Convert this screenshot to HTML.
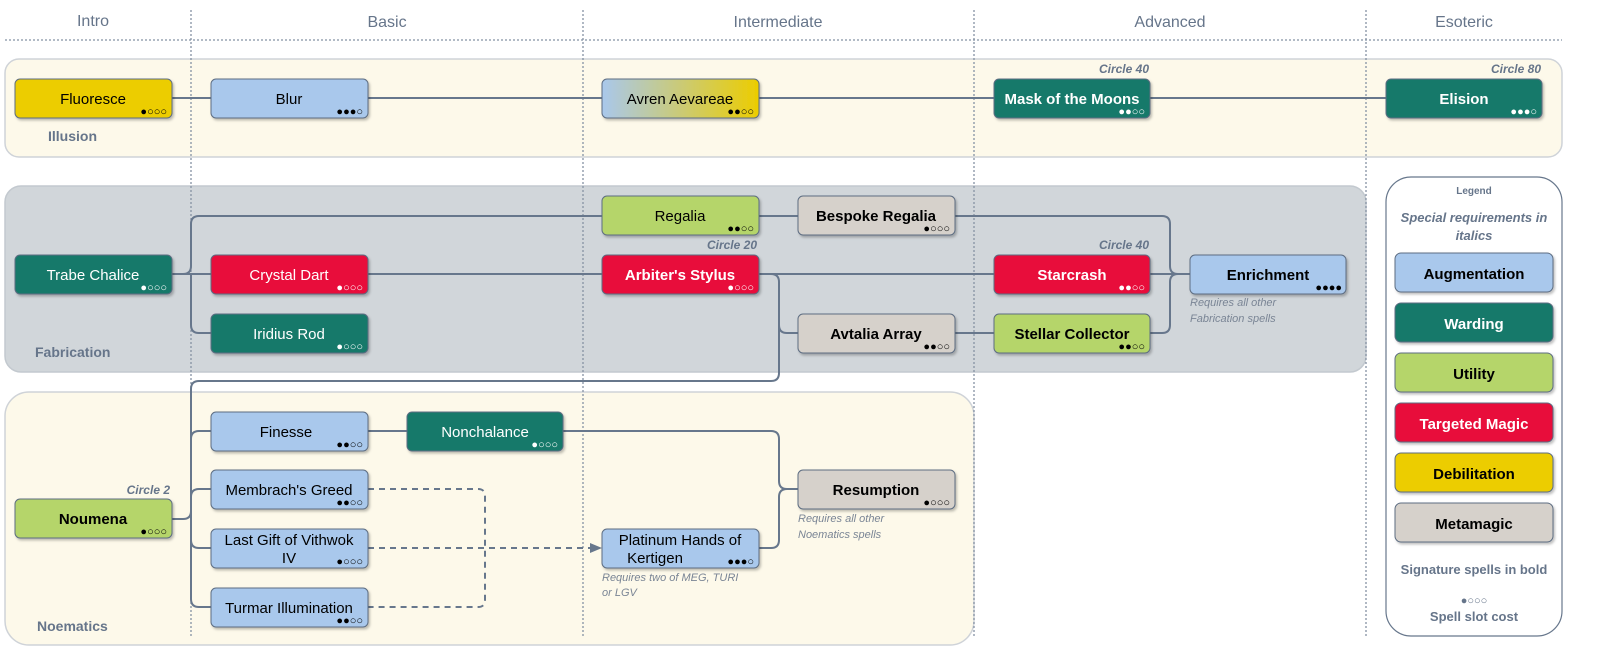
<!DOCTYPE html>
<html><head><meta charset="utf-8"><style>
html,body{margin:0;padding:0;background:#fff;width:100%;height:100%;overflow:hidden}
svg{display:block;font-family:"Liberation Sans",sans-serif;position:fixed;left:0;top:0;width:100vw;height:100vh}
.n{font-size:15px;text-anchor:middle}
.b{font-weight:bold}
.w{fill:#fff}
.d{font-size:11px;text-anchor:end;letter-spacing:0px}
.c{font-size:12px;font-style:italic;fill:#66758a;text-anchor:end;font-weight:bold}
.r{font-size:11px;font-style:italic;fill:#7a8595}
.g{font-size:14px;font-weight:bold;fill:#66758a}
.h{font-size:16px;fill:#66758a;text-anchor:middle}
.ln{fill:none;stroke:#67778c;stroke-width:2}
</style></head><body>
<svg viewBox="0 0 1602 661" preserveAspectRatio="none">
<defs>
<filter id="s" x="-10%" y="-10%" width="130%" height="140%"><feDropShadow dx="1.5" dy="2" stdDeviation="1.2" flood-color="#000" flood-opacity="0.25"/></filter>
<linearGradient id="av" x1="0" x2="1" y1="0" y2="0"><stop offset="0" stop-color="#a9c8ec"/><stop offset="1" stop-color="#eccd00"/></linearGradient>
</defs>
<rect x="5" y="59" width="1557" height="98" rx="14" fill="#fdf9ea" stroke="#cfd3d8" stroke-width="1.5"/>
<rect x="5" y="186" width="1361" height="186" rx="16" fill="#d1d6da" stroke="#c3c9cf" stroke-width="1.5"/>
<rect x="5" y="392" width="969" height="253" rx="24" fill="#fdf9ea" stroke="#cfd3d8" stroke-width="1.5"/>
<rect x="1386" y="177" width="176" height="459" rx="25" fill="#fff" stroke="#67778c" stroke-width="1.2"/>
<g stroke="#8592a3" stroke-width="1.3" stroke-dasharray="2,2">
<line x1="5" y1="40" x2="1562" y2="40"/>
<line x1="191" y1="10" x2="191" y2="636"/>
<line x1="583" y1="10" x2="583" y2="636"/>
<line x1="974" y1="10" x2="974" y2="636"/>
<line x1="1366" y1="10" x2="1366" y2="636"/>
</g>
<text class="h" x="93" y="26">Intro</text>
<text class="h" x="387" y="27">Basic</text>
<text class="h" x="778" y="27">Intermediate</text>
<text class="h" x="1170" y="27">Advanced</text>
<text class="h" x="1464" y="27">Esoteric</text>
<text class="g" x="48" y="141">Illusion</text>
<text class="g" x="35" y="357">Fabrication</text>
<text class="g" x="37" y="631">Noematics</text>
<line class="ln" x1="172" y1="98" x2="1386" y2="98"/>
<path class="ln" d="M172 274 H183 Q191 274 191 266 V224 Q191 216 199 216 H602"/>
<path class="ln" d="M172 274 H602 M191 274 V325 Q191 333 199 333 H211"/>
<line class="ln" x1="759" y1="216" x2="798" y2="216"/>
<path class="ln" d="M955 216 H1162 Q1170 216 1170 224 V266 Q1170 274 1178 274 H1190"/>
<line class="ln" x1="759" y1="274" x2="1190" y2="274"/>
<path class="ln" d="M1150 333 H1162 Q1170 333 1170 325 V282 Q1170 274 1178 274"/>
<path class="ln" d="M759 274 H771 Q779 274 779 282 V325 Q779 333 787 333 H798"/>
<line class="ln" x1="955" y1="333" x2="994" y2="333"/>
<path class="ln" d="M779 325 V373 Q779 381 771 381 H199 Q191 381 191 389 V599 Q191 607 199 607 H211"/>
<path class="ln" d="M172 519 H183 Q191 519 191 511 V439 Q191 431 199 431 H211"/>
<path class="ln" d="M191 497 Q191 489 199 489 H211 M191 540 Q191 548 199 548 H211"/>
<line class="ln" x1="368" y1="431" x2="407" y2="431"/>
<path class="ln" d="M563 431 H771 Q779 431 779 439 V481 Q779 489 787 489 H798"/>
<path class="ln" d="M759 548 H771 Q779 548 779 540 V497 Q779 489 787 489"/>
<g fill="none" stroke="#67778c" stroke-width="2" stroke-dasharray="6,5">
<path d="M368 489 H478 Q485 489 485 496 V600 Q485 607 478 607 H368"/>
<path d="M368 548 H592"/>
</g>
<path d="M590 543 L602 548 L590 553 Z" fill="#67778c"/>
<g filter="url(#s)" stroke="#5d6d82" stroke-width="1">
<rect x="15" y="79" width="157" height="39" rx="5" fill="#eccd00"/>
<rect x="211" y="79" width="157" height="39" rx="5" fill="#a9c8ec"/>
<rect x="602" y="79" width="157" height="39" rx="5" fill="url(#av)"/>
<rect x="994" y="79" width="156" height="39" rx="5" fill="#14796b"/>
<rect x="1386" y="79" width="156" height="39" rx="5" fill="#14796b"/>
<rect x="602" y="196" width="157" height="39" rx="5" fill="#b5d56a"/>
<rect x="798" y="196" width="157" height="39" rx="5" fill="#d6d1cb"/>
<rect x="15" y="255" width="157" height="39" rx="5" fill="#14796b"/>
<rect x="211" y="255" width="157" height="39" rx="5" fill="#e8073a"/>
<rect x="602" y="255" width="157" height="39" rx="5" fill="#e8073a"/>
<rect x="994" y="255" width="156" height="39" rx="5" fill="#e8073a"/>
<rect x="1190" y="255" width="156" height="39" rx="5" fill="#a9c8ec"/>
<rect x="211" y="314" width="157" height="39" rx="5" fill="#14796b"/>
<rect x="798" y="314" width="157" height="39" rx="5" fill="#d6d1cb"/>
<rect x="994" y="314" width="156" height="39" rx="5" fill="#b5d56a"/>
<rect x="211" y="412" width="157" height="39" rx="5" fill="#a9c8ec"/>
<rect x="407" y="412" width="156" height="39" rx="5" fill="#14796b"/>
<rect x="211" y="470" width="157" height="39" rx="5" fill="#a9c8ec"/>
<rect x="798" y="470" width="157" height="39" rx="5" fill="#d6d1cb"/>
<rect x="15" y="499" width="157" height="39" rx="5" fill="#b5d56a"/>
<rect x="211" y="529" width="157" height="39" rx="5" fill="#a9c8ec"/>
<rect x="602" y="529" width="157" height="39" rx="5" fill="#a9c8ec"/>
<rect x="211" y="588" width="157" height="39" rx="5" fill="#a9c8ec"/>
<rect x="1395" y="253" width="158" height="39" rx="6" fill="#a9c8ec"/>
<rect x="1395" y="303" width="158" height="39" rx="6" fill="#14796b"/>
<rect x="1395" y="353" width="158" height="39" rx="6" fill="#b5d56a"/>
<rect x="1395" y="403" width="158" height="39" rx="6" fill="#e8073a"/>
<rect x="1395" y="453" width="158" height="39" rx="6" fill="#eccd00"/>
<rect x="1395" y="503" width="158" height="39" rx="6" fill="#d6d1cb"/>
</g>
<text class="n" x="93" y="104">Fluoresce</text><text class="d" x="167" y="115">●○○○</text>
<text class="n" x="289" y="104">Blur</text><text class="d" x="363" y="115">●●●○</text>
<text class="n" x="680" y="104">Avren Aevareae</text><text class="d" x="754" y="115">●●○○</text>
<text class="n b w" x="1072" y="104">Mask of the Moons</text><text class="d w" x="1145" y="115">●●○○</text>
<text class="n b w" x="1464" y="104">Elision</text><text class="d w" x="1537" y="115">●●●○</text>
<text class="n" x="680" y="221">Regalia</text><text class="d" x="754" y="232">●●○○</text>
<text class="n b" x="876" y="221">Bespoke Regalia</text><text class="d" x="950" y="232">●○○○</text>
<text class="n w" x="93" y="280">Trabe Chalice</text><text class="d w" x="167" y="291">●○○○</text>
<text class="n w" x="289" y="280">Crystal Dart</text><text class="d w" x="363" y="291">●○○○</text>
<text class="n b w" x="680" y="280">Arbiter's Stylus</text><text class="d w" x="754" y="291">●○○○</text>
<text class="n b w" x="1072" y="280">Starcrash</text><text class="d w" x="1145" y="291">●●○○</text>
<text class="n b" x="1268" y="280">Enrichment</text><text class="d" x="1342" y="291">●●●●</text>
<text class="n w" x="289" y="339">Iridius Rod</text><text class="d w" x="363" y="350">●○○○</text>
<text class="n b" x="876" y="339">Avtalia Array</text><text class="d" x="950" y="350">●●○○</text>
<text class="n b" x="1072" y="339">Stellar Collector</text><text class="d" x="1145" y="350">●●○○</text>
<text class="n" x="286" y="437">Finesse</text><text class="d" x="363" y="448">●●○○</text>
<text class="n w" x="485" y="437">Nonchalance</text><text class="d w" x="558" y="448">●○○○</text>
<text class="n" x="289" y="495">Membrach's Greed</text><text class="d" x="363" y="506">●●○○</text>
<text class="n b" x="876" y="495">Resumption</text><text class="d" x="950" y="506">●○○○</text>
<text class="n b" x="93" y="524">Noumena</text><text class="d" x="167" y="535">●○○○</text>
<text class="n" x="289" y="545">Last Gift of Vithwok</text><text class="n" x="289" y="563">IV</text><text class="d" x="363" y="565">●○○○</text>
<text class="n" x="680" y="545">Platinum Hands of</text><text class="n" x="655" y="563">Kertigen</text><text class="d" x="754" y="565">●●●○</text>
<text class="n" x="289" y="613">Turmar Illumination</text><text class="d" x="363" y="624">●●○○</text>
<text class="c" x="1149" y="73">Circle 40</text>
<text class="c" x="1541" y="73">Circle 80</text>
<text class="c" x="757" y="249">Circle 20</text>
<text class="c" x="1149" y="249">Circle 40</text>
<text class="c" x="170" y="494">Circle 2</text>
<text class="r" x="1190" y="306">Requires all other</text>
<text class="r" x="1190" y="322">Fabrication spells</text>
<text class="r" x="798" y="522">Requires all other</text>
<text class="r" x="798" y="538">Noematics spells</text>
<text class="r" x="602" y="581">Requires two of MEG, TURI</text>
<text class="r" x="602" y="596">or LGV</text>
<text x="1474" y="194" font-size="10" font-weight="bold" fill="#66758a" text-anchor="middle">Legend</text>
<text x="1474" y="222" font-size="13" font-weight="bold" font-style="italic" fill="#66758a" text-anchor="middle">Special requirements in</text>
<text x="1474" y="240" font-size="13" font-weight="bold" font-style="italic" fill="#66758a" text-anchor="middle">italics</text>
<text class="n b" x="1474" y="279">Augmentation</text>
<text class="n b w" x="1474" y="329">Warding</text>
<text class="n b" x="1474" y="379">Utility</text>
<text class="n b w" x="1474" y="429">Targeted Magic</text>
<text class="n b" x="1474" y="479">Debilitation</text>
<text class="n b" x="1474" y="529">Metamagic</text>
<text x="1474" y="574" font-size="13" font-weight="bold" fill="#66758a" text-anchor="middle">Signature spells in bold</text>
<text x="1474" y="604" font-size="11" fill="#66758a" text-anchor="middle">●○○○</text>
<text x="1474" y="621" font-size="13" font-weight="bold" fill="#66758a" text-anchor="middle">Spell slot cost</text>
</svg>
</body></html>
